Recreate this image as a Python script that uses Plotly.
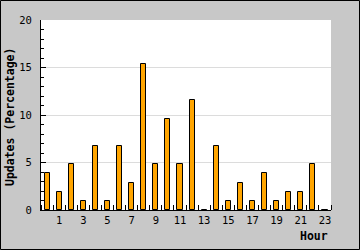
import plotly.graph_objects as go

hours = list(range(24))
updates = [3.85, 1.92, 4.81, 0.96, 6.73, 0.96, 6.73, 2.88, 15.38, 4.81, 9.62, 4.81,
           11.54, 0, 6.73, 0.96, 2.88, 0.96, 3.85, 0.96, 1.92, 1.92, 4.81, 0]
xtick_vals = [1, 3, 5, 7, 9, 11, 13, 15, 17, 19, 21, 23]
ytick_vals = [0, 5, 10, 15, 20]

W, H = 360, 250
L, R, T, B = 41, 29, 20, 40
pw, ph = W - L - R, H - T - B

fig = go.Figure(go.Bar(
    x=hours, y=updates, width=0.42,
    marker=dict(color="#ffa500", line=dict(color="black", width=1)),
))

mono = "DejaVu Sans Mono"
fig.update_layout(
    width=W, height=H, margin=dict(l=L, r=R, t=T, b=B),
    paper_bgcolor="#c8c8c8", plot_bgcolor="white",
    showlegend=False, bargap=0,
    font=dict(family=mono, size=10, color="black"),
    xaxis=dict(range=[-0.5, 23.5], tickvals=xtick_vals, ticktext=[str(v) for v in xtick_vals],
               ticks="", showgrid=False, zeroline=False, showline=True, linecolor="black",
               linewidth=1, tickfont=dict(family=mono, size=10.5),
               minor=dict(tick0=0.5, dtick=1, ticks="inside", ticklen=5, tickcolor="black",
                          showgrid=False)),
    yaxis=dict(range=[0, 20], tickvals=ytick_vals, ticks="inside", ticklen=5, tickcolor="black",
               showgrid=True, gridcolor="#dcdcdc", gridwidth=1, zeroline=False,
               showline=True, linecolor="black", linewidth=1, ticklabelstandoff=6,
               tickfont=dict(family=mono, size=10.5),
               minor=dict(dtick=1, ticks="inside", ticklen=3, tickcolor="black", showgrid=False)),
    annotations=[
        dict(text="<b>Updates (Percentage)</b>", xref="paper", yref="paper",
             x=(10 - L) / pw, y=(210 - 117) / ph, textangle=-90, showarrow=False,
             xanchor="center", yanchor="middle", font=dict(family=mono, size=11.5)),
        dict(text="<b>Hour</b>", xref="paper", yref="paper",
             x=(330 - L) / pw, y=(210 - 236) / ph, showarrow=False,
             xanchor="right", yanchor="middle", font=dict(family=mono, size=11.5)),
    ],
    shapes=[dict(type="rect", xref="paper", yref="paper",
                 x0=(0.5 - L) / pw, x1=(359.5 - L) / pw,
                 y0=(210 - 249.5) / ph, y1=(210 - 0.5) / ph,
                 line=dict(color="black", width=1), fillcolor="rgba(0,0,0,0)", layer="above")],
)

fig.write_html("out.html")
